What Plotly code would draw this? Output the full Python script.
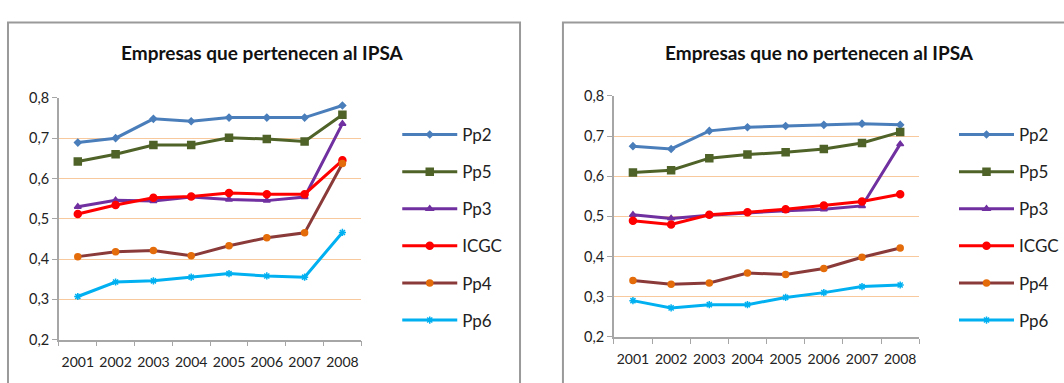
import plotly.graph_objects as go

years = ["2001", "2002", "2003", "2004", "2005", "2006", "2007", "2008"]
series_names = ["Pp2", "Pp5", "Pp3", "ICGC", "Pp4", "Pp6"]

# Empresas que pertenecen al IPSA
ipsa_pp2 = [0.689, 0.700, 0.748, 0.742, 0.751, 0.751, 0.751, 0.781]
ipsa_pp5 = [0.642, 0.660, 0.683, 0.683, 0.701, 0.698, 0.692, 0.758]
ipsa_pp3 = [0.530, 0.546, 0.544, 0.554, 0.548, 0.545, 0.554, 0.736]
ipsa_icgc = [0.512, 0.534, 0.552, 0.555, 0.564, 0.561, 0.561, 0.645]
ipsa_pp4 = [0.406, 0.418, 0.421, 0.408, 0.433, 0.453, 0.465, 0.637]
ipsa_pp6 = [0.307, 0.343, 0.346, 0.355, 0.364, 0.358, 0.355, 0.466]

# Empresas que no pertenecen al IPSA
noipsa_pp2 = [0.675, 0.668, 0.713, 0.722, 0.725, 0.728, 0.731, 0.728]
noipsa_pp5 = [0.609, 0.615, 0.645, 0.654, 0.660, 0.668, 0.683, 0.710]
noipsa_pp3 = [0.504, 0.495, 0.503, 0.509, 0.514, 0.518, 0.526, 0.680]
noipsa_icgc = [0.489, 0.480, 0.504, 0.510, 0.518, 0.527, 0.537, 0.555]
noipsa_pp4 = [0.340, 0.331, 0.334, 0.359, 0.355, 0.370, 0.398, 0.421]
noipsa_pp6 = [0.290, 0.272, 0.280, 0.280, 0.298, 0.310, 0.325, 0.329]

y_ticks = [0.2, 0.3, 0.4, 0.5, 0.6, 0.7, 0.8]

W, H = 1064, 383
FONT = "Lato, Calibri, Carlito, sans-serif"

styles = {
    "Pp2": dict(line="#4A7EBB", marker="diamond", mcolor="#4A7EBB", size=5),
    "Pp5": dict(line="#4F6228", marker="square", mcolor="#4F6228", size=7),
    "Pp3": dict(line="#7030A0", marker="triangle-up", mcolor="#7030A0", size=6),
    "ICGC": dict(line="#FF0000", marker="circle", mcolor="#FF0000", size=7),
    "Pp4": dict(line="#8B3A3A", marker="circle", mcolor="#E46C0A", size=6),
    "Pp6": dict(line="#00B0F0", marker="asterisk-open", mcolor="#00B0F0", size=6),
}


def px(x):
    return x / W


def py(y):
    return 1 - y / H


fig = go.Figure()

panels = [
    dict(data=[ipsa_pp2, ipsa_pp5, ipsa_pp3, ipsa_icgc, ipsa_pp4, ipsa_pp6],
         xa="x", ya="y", legend="legend"),
    dict(data=[noipsa_pp2, noipsa_pp5, noipsa_pp3, noipsa_icgc, noipsa_pp4, noipsa_pp6],
         xa="x2", ya="y2", legend="legend2"),
]

for p in panels:
    for name, vals in zip(series_names, p["data"]):
        s = styles[name]
        fig.add_trace(go.Scatter(
            x=years, y=vals, name=name, mode="lines+markers",
            xaxis=p["xa"], yaxis=p["ya"], legend=p["legend"],
            legendgroup=p["legend"] + name,
            line=dict(color=s["line"], width=3),
            marker=dict(symbol=s["marker"], color=s["mcolor"], size=s["size"],
                        line=dict(color=s["mcolor"], width=1.5)),
        ))

axis_common_x = dict(
    type="category", range=[-0.5, 7.5], tickson="boundaries",
    ticks="outside", ticklen=5, tickcolor="#A6A6A6",
    showline=True, linecolor="#A6A6A6", linewidth=1.5,
    showgrid=False, zeroline=False, ticklabelstandoff=9, tickangle=0,
    tickfont=dict(family=FONT, size=14, color="#222"),
)
axis_common_y = dict(
    range=[0.2, 0.8], tickvals=y_ticks, tickformat=".1f",
    ticks="outside", ticklen=5, tickcolor="#A6A6A6",
    showline=True, linecolor="#A6A6A6", linewidth=1.5,
    showgrid=True, gridcolor="#F9C99E", gridwidth=1.2, zeroline=False,
    tickfont=dict(family=FONT, size=14.5, color="#222"),
)

legend_common = dict(
    font=dict(family=FONT, size=17, color="#222"),
    bgcolor="rgba(0,0,0,0)", traceorder="grouped", tracegroupgap=12,
    xanchor="left", yanchor="top", itemwidth=55,
)

fig.update_layout(
    width=W, height=H, autosize=False,
    margin=dict(l=0, r=0, t=0, b=0),
    paper_bgcolor="white", plot_bgcolor="white",
    separators=",.",
    xaxis=dict(domain=[px(59), px(362)], anchor="y", **axis_common_x),
    yaxis=dict(domain=[py(346), py(93)], anchor="x", **axis_common_y),
    xaxis2=dict(domain=[px(615), px(921)], anchor="y2", **axis_common_x),
    yaxis2=dict(domain=[py(343), py(91)], anchor="x2", **axis_common_y),
    legend=dict(x=px(398), y=py(113), **legend_common),
    legend2=dict(x=px(956), y=py(113), **legend_common),
    annotations=[
        dict(text="<b>Empresas que pertenecen al IPSA</b>", xref="paper", yref="paper",
             x=px(263), y=py(46), showarrow=False, xanchor="center", yanchor="middle",
             font=dict(family=FONT, size=19, color="#111")),
        dict(text="<b>Empresas que no pertenecen al IPSA</b>", xref="paper", yref="paper",
             x=px(821), y=py(46), showarrow=False, xanchor="center", yanchor="middle",
             font=dict(family=FONT, size=19, color="#111")),
    ],
    shapes=[
        dict(type="rect", xref="paper", yref="paper",
             x0=px(8), x1=px(521), y0=py(400), y1=py(14),
             line=dict(color="#9A9A9A", width=2)),
        dict(type="rect", xref="paper", yref="paper",
             x0=px(564), x1=px(1090), y0=py(400), y1=py(14),
             line=dict(color="#9A9A9A", width=2)),
    ],
    showlegend=True,
)

fig.write_html("out.html")
